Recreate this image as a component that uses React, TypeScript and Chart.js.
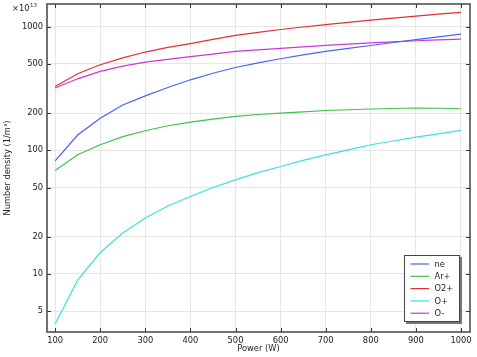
import React, { useEffect, useRef } from "react";
import { Chart, registerables } from "chart.js";

Chart.register(...registerables);

const powers = [100, 150, 200, 250, 300, 350, 400, 450, 500, 550, 600, 650, 700, 750, 800, 850, 900, 950, 1000];
const ne = [82, 133, 182, 233, 276, 322, 372, 420, 468, 510, 551, 592, 631, 668, 705, 745, 785, 827, 870];
const arPlus = [68.6, 92, 111, 129, 144, 158, 169, 179, 188, 195, 200, 205, 210, 213, 216, 218, 220, 219, 217];
const o2Plus = [329, 416, 492, 560, 624, 680, 730, 790, 851, 900, 950, 995, 1038, 1085, 1130, 1175, 1220, 1263, 1306];
const oPlus = [3.94, 8.9, 14.9, 21.4, 28.3, 35.5, 42.3, 50, 57.7, 66, 74, 83, 92, 101, 111, 119, 128, 136, 145];
const oMinus = [319, 379, 435, 480, 517, 545, 572, 601, 631, 650, 667, 687, 706, 722, 740, 755, 770, 783, 795];

const seriesLabels = ["ne", "Ar+", "O2+", "O+", "O-"];
const seriesColors = ["#4a63f2", "#3fc24a", "#e23030", "#3ee0e0", "#c83ad6"];
const xTicks = [100, 200, 300, 400, 500, 600, 700, 800, 900, 1000];
const yTicks = [5, 10, 20, 50, 100, 200, 500, 1000];

const FONT = "'DejaVu Sans', sans-serif";

const framePlugin = {
  id: "frame",
  afterDraw(chart: any) {
    const { ctx, chartArea } = chart;
    const { left, right, top, bottom } = chartArea;
    const xs = chart.scales.x;
    const ys = chart.scales.y;
    ctx.save();
    ctx.strokeStyle = "#333";
    ctx.lineWidth = 1;
    const tl = 4;
    xTicks.forEach((v) => {
      const px = Math.round(xs.getPixelForValue(v)) + 0.5;
      ctx.beginPath();
      ctx.moveTo(px, bottom);
      ctx.lineTo(px, bottom - tl);
      ctx.moveTo(px, top);
      ctx.lineTo(px, top + tl);
      ctx.stroke();
    });
    yTicks.forEach((v) => {
      const py = Math.round(ys.getPixelForValue(v)) + 0.5;
      ctx.beginPath();
      ctx.moveTo(left, py);
      ctx.lineTo(left + tl, py);
      ctx.moveTo(right, py);
      ctx.lineTo(right - tl, py);
      ctx.stroke();
    });
    ctx.strokeStyle = "#444";
    ctx.lineWidth = 1.5;
    ctx.strokeRect(left, top, right - left, bottom - top);

    ctx.fillStyle = "#222";
    ctx.textBaseline = "alphabetic";
    ctx.textAlign = "left";
    ctx.font = `8.3px ${FONT}`;
    ctx.fillText("×10", 12, 11);
    const w = ctx.measureText("×10").width;
    ctx.font = `5.5px ${FONT}`;
    ctx.fillText("13", 12 + w + 0.5, 7);

    const bx = 404, by = 255, bw = 56, bh = 67;
    ctx.fillStyle = "#777";
    ctx.fillRect(bx + 2, by + 2, bw, bh);
    ctx.fillStyle = "#fff";
    ctx.fillRect(bx, by, bw, bh);
    ctx.strokeStyle = "#444";
    ctx.lineWidth = 1;
    ctx.strokeRect(bx + 0.5, by + 0.5, bw - 1, bh - 1);
    ctx.font = `8.3px ${FONT}`;
    ctx.textBaseline = "middle";
    chart.data.datasets.forEach((ds: any, i: number) => {
      const yy = 264 + i * 12.3;
      ctx.strokeStyle = ds.borderColor;
      ctx.lineWidth = 1.2;
      ctx.beginPath();
      ctx.moveTo(410.5, yy);
      ctx.lineTo(429, yy);
      ctx.stroke();
      ctx.fillStyle = "#222";
      ctx.fillText(ds.label, 434.5, yy + 0.5);
    });
    ctx.restore();
  },
};

export default function App() {
  const ref = useRef<HTMLCanvasElement>(null);
  useEffect(() => {
    if (!ref.current) return;
    const all = [ne, arPlus, o2Plus, oPlus, oMinus];
    const chart = new Chart(ref.current, {
      type: "line",
      data: {
        datasets: all.map((vals, i) => ({
          label: seriesLabels[i],
          data: powers.map((p, j) => ({ x: p, y: vals[j] })),
          borderColor: seriesColors[i],
          backgroundColor: seriesColors[i],
          borderWidth: 1.2,
          pointRadius: 0,
          tension: 0,
        })),
      },
      options: {
        animation: false,
        responsive: false,
        maintainAspectRatio: false,
        layout: { padding: { top: 4, right: 7, left: 0, bottom: 0 } },
        plugins: { legend: { display: false }, tooltip: { enabled: false } },
        scales: {
          x: {
            type: "linear",
            min: 82,
            max: 1020,
            afterBuildTicks: (s: any) => {
              s.ticks = xTicks.map((v) => ({ value: v }));
            },
            afterFit: (s: any) => {
              s.height = 25;
              s.paddingLeft = 0;
              s.paddingRight = 0;
            },
            grid: { color: "#e6e6e6", drawTicks: false },
            border: { display: false },
            ticks: {
              padding: 4,
              color: "#222",
              font: { family: FONT, size: 8.3 },
              maxRotation: 0,
              callback: (v: any) => String(v),
            },
            title: {
              display: true,
              text: "Power (W)",
              color: "#222",
              font: { family: FONT, size: 8.3 },
              padding: { top: 0, bottom: 3 },
            },
          },
          y: {
            type: "logarithmic",
            min: 3.39,
            max: 1527,
            afterBuildTicks: (s: any) => {
              s.ticks = yTicks.map((v) => ({ value: v }));
            },
            afterFit: (s: any) => {
              s.width = 47;
              s.paddingTop = 0;
              s.paddingBottom = 0;
            },
            grid: { color: "#e6e6e6", drawTicks: false },
            border: { display: false },
            ticks: {
              padding: 4,
              color: "#222",
              font: { family: FONT, size: 8.3 },
              callback: (v: any) => String(v),
            },
            title: {
              display: true,
              text: "Number density (1/m³)",
              color: "#222",
              font: { family: FONT, size: 8.3 },
              padding: { top: 2.5, bottom: 0 },
            },
          },
        },
      },
      plugins: [framePlugin],
    });
    return () => chart.destroy();
  }, []);
  return (
    <div style={{ position: "absolute", left: 0, top: 0, width: 477, height: 357, background: "#fff" }}>
      <canvas ref={ref} width={477} height={357} style={{ width: 477, height: 357 }} />
    </div>
  );
}
